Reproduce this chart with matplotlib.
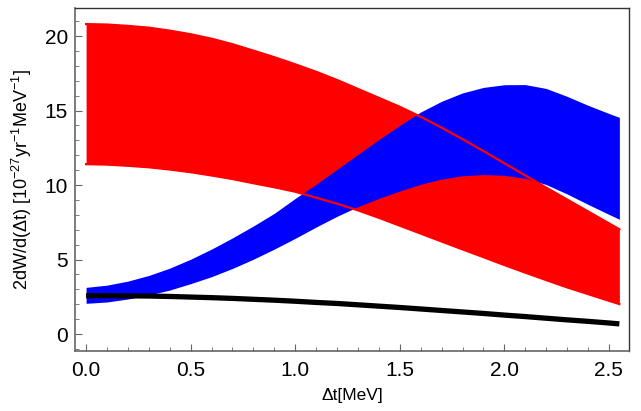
import matplotlib
matplotlib.use("Agg")
import matplotlib.pyplot as plt
from matplotlib.ticker import MultipleLocator, FormatStrFormatter

plt.rcParams["font.family"] = ["Liberation Sans", "DejaVu Sans"]
plt.rcParams["mathtext.fontset"] = "custom"
plt.rcParams["mathtext.rm"] = "Liberation Sans"
plt.rcParams["mathtext.it"] = "Liberation Sans:italic"

# energy difference grid (MeV)
dt = [0.0, 0.1, 0.2, 0.3, 0.4, 0.5, 0.6, 0.7, 0.8, 0.9, 1.0, 1.1, 1.2, 1.3,
      1.4, 1.5, 1.6, 1.7, 1.8, 1.9, 2.0, 2.1, 2.2, 2.3, 2.4, 2.5, 2.55]

# red band
red_hi = [20.80, 20.77, 20.68, 20.56, 20.36, 20.12, 19.82, 19.45, 19.02,
          18.58, 18.10, 17.60, 17.05, 16.45, 15.85, 15.25, 14.58, 13.85,
          13.08, 12.28, 11.46, 10.64, 9.83, 9.03, 8.23, 7.43, 7.03]
red_lo = [11.40, 11.37, 11.29, 11.19, 11.04, 10.86, 10.64, 10.40, 10.12,
          9.85, 9.55, 9.15, 8.75, 8.30, 7.80, 7.27, 6.74, 6.21,
          5.68, 5.16, 4.63, 4.12, 3.62, 3.13, 2.68, 2.23, 2.01]

# blue band
blue_hi = [3.13, 3.28, 3.55, 3.93, 4.42, 5.02, 5.70, 6.45, 7.25,
           8.10, 9.10, 10.05, 11.05, 12.05, 13.05, 14.00, 14.90, 15.62,
           16.18, 16.55, 16.73, 16.74, 16.48, 15.95, 15.35, 14.80, 14.54]
blue_lo = [2.06, 2.15, 2.35, 2.62, 2.95, 3.38, 3.85, 4.40, 5.02,
           5.70, 6.42, 7.18, 7.90, 8.55, 9.10, 9.60, 10.05, 10.40,
           10.62, 10.70, 10.65, 10.45, 10.03, 9.40, 8.70, 8.03, 7.70]

# black curve
black = [2.57, 2.57, 2.56, 2.55, 2.52, 2.48, 2.44, 2.39, 2.33,
         2.27, 2.20, 2.12, 2.05, 1.96, 1.87, 1.78, 1.68, 1.58,
         1.48, 1.38, 1.27, 1.17, 1.06, 0.95, 0.85, 0.74, 0.68]

fig = plt.figure(figsize=(6.41, 4.11), dpi=100)
ax = fig.add_axes([75 / 641, 60 / 411, 554 / 641, 343 / 411])

ax.fill_between(dt, red_lo, red_hi, color="#ff0000", lw=0, zorder=1)
ax.fill_between(dt, blue_lo, blue_hi, color="#0000ff", lw=0, zorder=2)
ax.plot(dt, red_hi, color="#ff0000", lw=1.6, zorder=3)
ax.plot(dt, red_lo, color="#ff0000", lw=1.6, zorder=3)
ax.plot(dt, black, color="black", lw=3.8, solid_capstyle="butt", zorder=4)

ax.set_xlim(-0.053, 2.596)
ax.set_ylim(-1.14, 21.88)

ax.xaxis.set_major_locator(MultipleLocator(0.5))
ax.xaxis.set_minor_locator(MultipleLocator(0.1))
ax.yaxis.set_major_locator(MultipleLocator(5))
ax.yaxis.set_minor_locator(MultipleLocator(1))
ax.xaxis.set_major_formatter(FormatStrFormatter("%.1f"))

ax.tick_params(which="both", direction="in", color="#666666", top=False, right=False,
               labelsize=15, labelcolor="black")
ax.tick_params(which="major", length=5, width=0.8)
ax.tick_params(which="minor", length=3, width=0.6)
ax.tick_params(axis="x", pad=7)
ax.tick_params(axis="y", pad=5)

for side in ["left", "bottom"]:
    ax.spines[side].set_color("#666666")
    ax.spines[side].set_linewidth(1.2)
for side in ["top", "right"]:
    ax.spines[side].set_color("#333333")
    ax.spines[side].set_linewidth(1.0)

ax.set_xlabel(r"Δt[MeV]", fontsize=12.5, labelpad=6)
ax.set_ylabel(r"2dW/d(Δt) [10$^{\mathregular{-27}}$yr$^{\mathregular{-1}}$MeV$^{\mathregular{-1}}$]",
              fontsize=13, labelpad=8)

fig.savefig("out.png", dpi=100)
